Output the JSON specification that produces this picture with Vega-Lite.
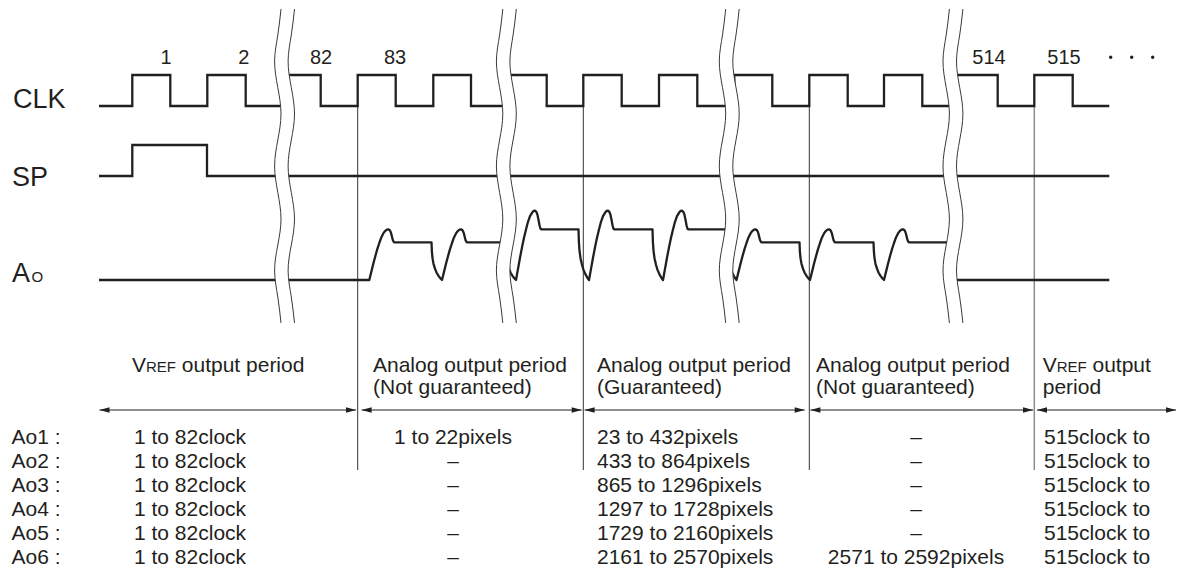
{
  "$schema": "https://vega.github.io/schema/vega-lite/v6.json",
  "width": 1177,
  "height": 571,
  "autosize": {"type": "fit", "contains": "padding"},
  "padding": 0,
  "background": "white",
  "config": {"view": {"stroke": null}},
  "datasets": {
    "clk": [
      {"x":99,"y":106},{"x":132.3,"y":75},{"x":170.3,"y":106},{"x":207.3,"y":75},{"x":245.7,"y":106},
      {"x":285,"y":75},{"x":320.7,"y":106},{"x":357.7,"y":75},{"x":395.7,"y":106},{"x":433.3,"y":75},
      {"x":471,"y":106},{"x":508.7,"y":75},{"x":546.7,"y":106},{"x":583.3,"y":75},{"x":621.7,"y":106},
      {"x":659,"y":75},{"x":697.3,"y":106},{"x":734.3,"y":75},{"x":772.3,"y":106},{"x":809.3,"y":75},
      {"x":847.7,"y":106},{"x":884,"y":75},{"x":922.3,"y":106},{"x":955,"y":75},{"x":997.7,"y":106},
      {"x":1034.3,"y":75},{"x":1072.7,"y":106},{"x":1109.3,"y":106}
    ],
    "sp": [
      {"x":99,"y":176},{"x":132.3,"y":145},{"x":207,"y":176},{"x":1109.3,"y":176}
    ],
    "ao": [
      {"x":99,"y":280},
      {"x":369.3,"y":280},{"x":371.3,"y":271.9},{"x":373.3,"y":263.8},{"x":375.3,"y":256.2},{"x":377.3,"y":249.1},{"x":379.3,"y":243},{"x":381.3,"y":237.4},{"x":383.3,"y":233.4},{"x":385.3,"y":230.8},{"x":386.8,"y":229.6},{"x":388.3,"y":229.3},{"x":389.8,"y":230.3},{"x":390.8,"y":232.3},{"x":391.8,"y":235.9},{"x":392.8,"y":240},{"x":393.8,"y":242},{"x":394.3,"y":242.3},
      {"x":431.5,"y":242.3},{"x":431.9,"y":251.7},{"x":432.5,"y":258.1},{"x":433.5,"y":263.8},{"x":435,"y":268.7},{"x":436.5,"y":272.5},{"x":438.5,"y":275.9},{"x":440.5,"y":278.5},
      {"x":442,"y":280},{"x":444,"y":271.9},{"x":446,"y":263.8},{"x":448,"y":256.2},{"x":450,"y":249.1},{"x":452,"y":243},{"x":454,"y":237.4},{"x":456,"y":233.4},{"x":458,"y":230.8},{"x":459.5,"y":229.6},{"x":461,"y":229.3},{"x":462.5,"y":230.3},{"x":463.5,"y":232.3},{"x":464.5,"y":235.9},{"x":465.5,"y":240},{"x":466.5,"y":242},{"x":467,"y":242.3},
      {"x":505.5,"y":242.3},{"x":505.9,"y":251.7},{"x":506.5,"y":258.1},{"x":507.5,"y":263.8},{"x":509,"y":268.7},{"x":510.5,"y":272.5},{"x":512.5,"y":275.9},{"x":514.5,"y":278.5},
      {"x":516,"y":280},{"x":518,"y":268.9},{"x":520,"y":257.8},{"x":522,"y":247.4},{"x":524,"y":237.7},{"x":526,"y":229.4},{"x":528,"y":221.8},{"x":530,"y":216.2},{"x":532,"y":212.8},{"x":533.5,"y":211},{"x":535,"y":210.7},{"x":536.5,"y":212.1},{"x":537.5,"y":214.9},{"x":538.5,"y":219.7},{"x":539.5,"y":225.3},{"x":540.5,"y":228.8},{"x":541,"y":229.3},
      {"x":578.5,"y":229.3},{"x":578.9,"y":242},{"x":579.5,"y":250.6},{"x":580.5,"y":258.2},{"x":582,"y":264.8},{"x":583.5,"y":269.9},{"x":585.5,"y":274.4},{"x":587.5,"y":278},
      {"x":589,"y":280},{"x":591,"y":268.9},{"x":593,"y":257.8},{"x":595,"y":247.4},{"x":597,"y":237.7},{"x":599,"y":229.4},{"x":601,"y":221.8},{"x":603,"y":216.2},{"x":605,"y":212.8},{"x":606.5,"y":211},{"x":608,"y":210.7},{"x":609.5,"y":212.1},{"x":610.5,"y":214.9},{"x":611.5,"y":219.7},{"x":612.5,"y":225.3},{"x":613.5,"y":228.8},{"x":614,"y":229.3},
      {"x":652.5,"y":229.3},{"x":652.9,"y":242},{"x":653.5,"y":250.6},{"x":654.5,"y":258.2},{"x":656,"y":264.8},{"x":657.5,"y":269.9},{"x":659.5,"y":274.4},{"x":661.5,"y":278},
      {"x":663,"y":280},{"x":665,"y":268.9},{"x":667,"y":257.8},{"x":669,"y":247.4},{"x":671,"y":237.7},{"x":673,"y":229.4},{"x":675,"y":221.8},{"x":677,"y":216.2},{"x":679,"y":212.8},{"x":680.5,"y":211},{"x":682,"y":210.7},{"x":683.5,"y":212.1},{"x":684.5,"y":214.9},{"x":685.5,"y":219.7},{"x":686.5,"y":225.3},{"x":687.5,"y":228.8},{"x":688,"y":229.3},
      {"x":726,"y":229.3},{"x":726.4,"y":242},{"x":727,"y":250.6},{"x":728,"y":258.2},{"x":729.5,"y":264.8},{"x":731,"y":269.9},{"x":733,"y":274.4},{"x":735,"y":278},
      {"x":736.5,"y":280},{"x":738.5,"y":271.9},{"x":740.5,"y":263.8},{"x":742.5,"y":256.2},{"x":744.5,"y":249.1},{"x":746.5,"y":243},{"x":748.5,"y":237.4},{"x":750.5,"y":233.4},{"x":752.5,"y":230.8},{"x":754,"y":229.6},{"x":755.5,"y":229.3},{"x":757,"y":230.3},{"x":758,"y":232.3},{"x":759,"y":235.9},{"x":760,"y":240},{"x":761,"y":242},{"x":761.5,"y":242.3},
      {"x":799.5,"y":242.3},{"x":799.9,"y":251.7},{"x":800.5,"y":258.1},{"x":801.5,"y":263.8},{"x":803,"y":268.7},{"x":804.5,"y":272.5},{"x":806.5,"y":275.9},{"x":808.5,"y":278.5},
      {"x":810,"y":280},{"x":812,"y":271.9},{"x":814,"y":263.8},{"x":816,"y":256.2},{"x":818,"y":249.1},{"x":820,"y":243},{"x":822,"y":237.4},{"x":824,"y":233.4},{"x":826,"y":230.8},{"x":827.5,"y":229.6},{"x":829,"y":229.3},{"x":830.5,"y":230.3},{"x":831.5,"y":232.3},{"x":832.5,"y":235.9},{"x":833.5,"y":240},{"x":834.5,"y":242},{"x":835,"y":242.3},
      {"x":873.5,"y":242.3},{"x":873.9,"y":251.7},{"x":874.5,"y":258.1},{"x":875.5,"y":263.8},{"x":877,"y":268.7},{"x":878.5,"y":272.5},{"x":880.5,"y":275.9},{"x":882.5,"y":278.5},
      {"x":884,"y":280},{"x":886,"y":271.9},{"x":888,"y":263.8},{"x":890,"y":256.2},{"x":892,"y":249.1},{"x":894,"y":243},{"x":896,"y":237.4},{"x":898,"y":233.4},{"x":900,"y":230.8},{"x":901.5,"y":229.6},{"x":903,"y":229.3},{"x":904.5,"y":230.3},{"x":905.5,"y":232.3},{"x":906.5,"y":235.9},{"x":907.5,"y":240},{"x":908.5,"y":242},{"x":909,"y":242.3},
      {"x":949.5,"y":242.3},{"x":953,"y":280},{"x":1109.3,"y":280}
    ],
    "breaks": [
      {"b":1,"y":9,"xl":281,"xr":294.5},{"b":1,"y":35,"xl":277.8,"xr":291.3},{"b":1,"y":61,"xl":274.6,"xr":288.1},{"b":1,"y":87.5,"xl":277.8,"xr":291.3},{"b":1,"y":114,"xl":281,"xr":294.5},{"b":1,"y":140,"xl":277.8,"xr":291.3},{"b":1,"y":166,"xl":274.6,"xr":288.1},{"b":1,"y":192.5,"xl":277.8,"xr":291.3},{"b":1,"y":219,"xl":281,"xr":294.5},{"b":1,"y":245,"xl":277.8,"xr":291.3},{"b":1,"y":271,"xl":274.6,"xr":288.1},{"b":1,"y":297,"xl":277.8,"xr":291.3},{"b":1,"y":323,"xl":281,"xr":294.5},
      {"b":2,"y":9,"xl":502.8,"xr":516.3},{"b":2,"y":35,"xl":499.6,"xr":513.1},{"b":2,"y":61,"xl":496.4,"xr":509.9},{"b":2,"y":87.5,"xl":499.6,"xr":513.1},{"b":2,"y":114,"xl":502.8,"xr":516.3},{"b":2,"y":140,"xl":499.6,"xr":513.1},{"b":2,"y":166,"xl":496.4,"xr":509.9},{"b":2,"y":192.5,"xl":499.6,"xr":513.1},{"b":2,"y":219,"xl":502.8,"xr":516.3},{"b":2,"y":245,"xl":499.6,"xr":513.1},{"b":2,"y":271,"xl":496.4,"xr":509.9},{"b":2,"y":297,"xl":499.6,"xr":513.1},{"b":2,"y":323,"xl":502.8,"xr":516.3},
      {"b":3,"y":9,"xl":725.7,"xr":739.2},{"b":3,"y":35,"xl":722.5,"xr":736},{"b":3,"y":61,"xl":719.3,"xr":732.8},{"b":3,"y":87.5,"xl":722.5,"xr":736},{"b":3,"y":114,"xl":725.7,"xr":739.2},{"b":3,"y":140,"xl":722.5,"xr":736},{"b":3,"y":166,"xl":719.3,"xr":732.8},{"b":3,"y":192.5,"xl":722.5,"xr":736},{"b":3,"y":219,"xl":725.7,"xr":739.2},{"b":3,"y":245,"xl":722.5,"xr":736},{"b":3,"y":271,"xl":719.3,"xr":732.8},{"b":3,"y":297,"xl":722.5,"xr":736},{"b":3,"y":323,"xl":725.7,"xr":739.2},
      {"b":4,"y":9,"xl":949.4,"xr":962.9},{"b":4,"y":35,"xl":946.2,"xr":959.7},{"b":4,"y":61,"xl":943,"xr":956.5},{"b":4,"y":87.5,"xl":946.2,"xr":959.7},{"b":4,"y":114,"xl":949.4,"xr":962.9},{"b":4,"y":140,"xl":946.2,"xr":959.7},{"b":4,"y":166,"xl":943,"xr":956.5},{"b":4,"y":192.5,"xl":946.2,"xr":959.7},{"b":4,"y":219,"xl":949.4,"xr":962.9},{"b":4,"y":245,"xl":946.2,"xr":959.7},{"b":4,"y":271,"xl":943,"xr":956.5},{"b":4,"y":297,"xl":946.2,"xr":959.7},{"b":4,"y":323,"xl":949.4,"xr":962.9}
    ],
    "periods": [
      {"x":357.7,"y1":106,"y2":470},{"x":583.3,"y1":106,"y2":470},{"x":809.3,"y1":106,"y2":470},{"x":1034.3,"y1":106,"y2":470}
    ],
    "arrows": [
      {"x1":99.5,"x2":356,"y":410},{"x1":361.6,"x2":581.7,"y":410},{"x1":584.6,"x2":804.7,"y":410},{"x1":810.4,"x2":1033,"y":410},{"x1":1037,"x2":1176,"y":410}
    ],
    "dots": [{"x":1110.7,"y":57.3},{"x":1131.7,"y":57.3},{"x":1152.7,"y":57.3}],
    "signals": [{"t":"CLK","x":13,"y":108},{"t":"SP","x":12,"y":186},{"t":"A","x":12,"y":282}],
    "small": [{"t":"O","x":31.5,"y":282},{"t":"REF","x":146,"y":372.4},{"t":"REF","x":1056.7,"y":372.4}],
    "clocks": [{"t":"1","x":166,"y":64},{"t":"2","x":243.7,"y":64},{"t":"82","x":321,"y":64},{"t":"83","x":395,"y":64},{"t":"514","x":989,"y":64},{"t":"515","x":1064,"y":64}],
    "textL": [
      {"t":"V","x":132,"y":372.4},{"t":"output period","x":181.8,"y":372.4},
      {"t":"Analog output period","x":373,"y":372.4},{"t":"(Not guaranteed)","x":373,"y":393.6},
      {"t":"Analog output period","x":597,"y":372.4},{"t":"(Guaranteed)","x":597,"y":393.6},
      {"t":"Analog output period","x":816,"y":372.4},{"t":"(Not guaranteed)","x":816,"y":393.6},
      {"t":"V","x":1042.7,"y":372.4},{"t":"output","x":1092.5,"y":372.4},{"t":"period","x":1042.7,"y":393.6},
      {"t":"Ao1 :","x":11.5,"y":443.5},{"t":"1 to 82clock","x":134,"y":443.5},{"t":"23 to 432pixels","x":597,"y":443.5},{"t":"515clock to","x":1044,"y":443.5},
      {"t":"Ao2 :","x":11.5,"y":467.5},{"t":"1 to 82clock","x":134,"y":467.5},{"t":"433 to 864pixels","x":597,"y":467.5},{"t":"515clock to","x":1044,"y":467.5},
      {"t":"Ao3 :","x":11.5,"y":491.5},{"t":"1 to 82clock","x":134,"y":491.5},{"t":"865 to 1296pixels","x":597,"y":491.5},{"t":"515clock to","x":1044,"y":491.5},
      {"t":"Ao4 :","x":11.5,"y":515.5},{"t":"1 to 82clock","x":134,"y":515.5},{"t":"1297 to 1728pixels","x":597,"y":515.5},{"t":"515clock to","x":1044,"y":515.5},
      {"t":"Ao5 :","x":11.5,"y":539.5},{"t":"1 to 82clock","x":134,"y":539.5},{"t":"1729 to 2160pixels","x":597,"y":539.5},{"t":"515clock to","x":1044,"y":539.5},
      {"t":"Ao6 :","x":11.5,"y":563.5},{"t":"1 to 82clock","x":134,"y":563.5},{"t":"2161 to 2570pixels","x":597,"y":563.5},{"t":"515clock to","x":1044,"y":563.5}
    ],
    "textC": [
      {"t":"1 to 22pixels","x":453,"y":443.5},{"t":"–","x":453,"y":467.5},{"t":"–","x":453,"y":491.5},{"t":"–","x":453,"y":515.5},{"t":"–","x":453,"y":539.5},{"t":"–","x":453,"y":563.5},
      {"t":"–","x":916,"y":443.5},{"t":"–","x":916,"y":467.5},{"t":"–","x":916,"y":491.5},{"t":"–","x":916,"y":515.5},{"t":"–","x":916,"y":539.5},{"t":"2571 to 2592pixels","x":916,"y":563.5}
    ]
  },
  "layer": [
    {
      "data": {"name": "periods"},
      "transform": [{"filter": "datum.x < 1000"}],
      "mark": {"type": "rule", "stroke": "#333333", "strokeWidth": 1},
      "encoding": {
        "x": {"field": "x", "type": "quantitative", "scale": {"domain": [0, 1177], "nice": false, "zero": false}, "axis": null},
        "y": {"field": "y1", "type": "quantitative", "scale": {"domain": [0, 571], "nice": false, "zero": false, "reverse": true}, "axis": null},
        "y2": {"field": "y2"}
      }
    },
    {
      "data": {"name": "periods"},
      "transform": [{"filter": "datum.x > 1000"}],
      "mark": {"type": "rule", "stroke": "#8c8c8c", "strokeWidth": 1.5},
      "encoding": {
        "x": {"field": "x", "type": "quantitative"},
        "y": {"field": "y1", "type": "quantitative"},
        "y2": {"field": "y2"}
      }
    },
    {
      "data": {"name": "clk"},
      "mark": {"type": "line", "interpolate": "step-after", "stroke": "#231f20", "strokeWidth": 2.3},
      "encoding": {
        "x": {"field": "x", "type": "quantitative"},
        "y": {"field": "y", "type": "quantitative"}
      }
    },
    {
      "data": {"name": "sp"},
      "mark": {"type": "line", "interpolate": "step-after", "stroke": "#231f20", "strokeWidth": 2.3},
      "encoding": {
        "x": {"field": "x", "type": "quantitative"},
        "y": {"field": "y", "type": "quantitative"}
      }
    },
    {
      "data": {"name": "ao"},
      "mark": {"type": "line", "stroke": "#231f20", "strokeWidth": 2.3, "strokeJoin": "round"},
      "encoding": {
        "x": {"field": "x", "type": "quantitative"},
        "y": {"field": "y", "type": "quantitative"}
      }
    },
    {
      "data": {"name": "breaks"},
      "mark": {"type": "area", "orient": "horizontal", "interpolate": "natural", "fill": "white", "opacity": 1},
      "encoding": {
        "y": {"field": "y", "type": "quantitative"},
        "x": {"field": "xl", "type": "quantitative"},
        "x2": {"field": "xr"},
        "detail": {"field": "b"}
      }
    },
    {
      "data": {"name": "breaks"},
      "mark": {"type": "line", "interpolate": "natural", "stroke": "#3a3a3a", "strokeWidth": 1},
      "encoding": {
        "x": {"field": "xl", "type": "quantitative"},
        "y": {"field": "y", "type": "quantitative"},
        "detail": {"field": "b"},
        "order": {"field": "y", "type": "quantitative"}
      }
    },
    {
      "data": {"name": "breaks"},
      "mark": {"type": "line", "interpolate": "natural", "stroke": "#3a3a3a", "strokeWidth": 1},
      "encoding": {
        "x": {"field": "xr", "type": "quantitative"},
        "y": {"field": "y", "type": "quantitative"},
        "detail": {"field": "b"},
        "order": {"field": "y", "type": "quantitative"}
      }
    },
    {
      "data": {"name": "arrows"},
      "mark": {"type": "rule", "stroke": "#231f20", "strokeWidth": 1.2},
      "encoding": {
        "x": {"field": "x1", "type": "quantitative"},
        "x2": {"field": "x2"},
        "y": {"field": "y", "type": "quantitative"}
      }
    },
    {
      "data": {"name": "arrows"},
      "mark": {"type": "point", "shape": "M0,0L1,-0.28L1,0.28Z", "filled": true, "fill": "#231f20", "strokeWidth": 0, "opacity": 1, "size": 400},
      "encoding": {
        "x": {"field": "x1", "type": "quantitative"},
        "y": {"field": "y", "type": "quantitative"}
      }
    },
    {
      "data": {"name": "arrows"},
      "mark": {"type": "point", "shape": "M0,0L-1,-0.28L-1,0.28Z", "filled": true, "fill": "#231f20", "strokeWidth": 0, "opacity": 1, "size": 400},
      "encoding": {
        "x": {"field": "x2", "type": "quantitative"},
        "y": {"field": "y", "type": "quantitative"}
      }
    },
    {
      "data": {"name": "dots"},
      "mark": {"type": "point", "shape": "circle", "filled": true, "fill": "#231f20", "strokeWidth": 0, "opacity": 1, "size": 12},
      "encoding": {
        "x": {"field": "x", "type": "quantitative"},
        "y": {"field": "y", "type": "quantitative"}
      }
    },
    {
      "data": {"name": "signals"},
      "mark": {"type": "text", "align": "left", "baseline": "alphabetic", "font": "Liberation Sans", "fontSize": 27, "fill": "#231f20"},
      "encoding": {
        "x": {"field": "x", "type": "quantitative"},
        "y": {"field": "y", "type": "quantitative"},
        "text": {"field": "t"}
      }
    },
    {
      "data": {"name": "small"},
      "mark": {"type": "text", "align": "left", "baseline": "alphabetic", "font": "Liberation Sans", "fontSize": 15, "fill": "#231f20"},
      "encoding": {
        "x": {"field": "x", "type": "quantitative"},
        "y": {"field": "y", "type": "quantitative"},
        "text": {"field": "t"}
      }
    },
    {
      "data": {"name": "clocks"},
      "mark": {"type": "text", "align": "center", "baseline": "alphabetic", "font": "Liberation Sans", "fontSize": 20, "fill": "#231f20"},
      "encoding": {
        "x": {"field": "x", "type": "quantitative"},
        "y": {"field": "y", "type": "quantitative"},
        "text": {"field": "t"}
      }
    },
    {
      "data": {"name": "textL"},
      "mark": {"type": "text", "align": "left", "baseline": "alphabetic", "font": "Liberation Sans", "fontSize": 21, "fill": "#231f20"},
      "encoding": {
        "x": {"field": "x", "type": "quantitative"},
        "y": {"field": "y", "type": "quantitative"},
        "text": {"field": "t"}
      }
    },
    {
      "data": {"name": "textC"},
      "mark": {"type": "text", "align": "center", "baseline": "alphabetic", "font": "Liberation Sans", "fontSize": 21, "fill": "#231f20"},
      "encoding": {
        "x": {"field": "x", "type": "quantitative"},
        "y": {"field": "y", "type": "quantitative"},
        "text": {"field": "t"}
      }
    }
  ]
}
